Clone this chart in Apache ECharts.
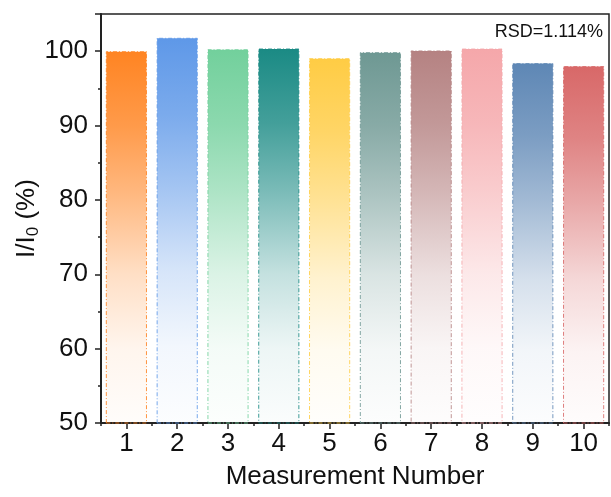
<!DOCTYPE html>
<html>
<head>
<meta charset="utf-8">
<script src="https://cdn.jsdelivr.net/npm/echarts@6/dist/echarts.min.js"></script>
<style>html,body{margin:0;padding:0;background:#fff}#c{width:611px;height:497px}</style>
</head>
<body>
<div id="c"></div>
<script>
const categories = ['1','2','3','4','5','6','7','8','9','10'];
const values = [100.0, 101.8, 100.27, 100.36, 99.06, 99.87, 100.1, 100.36, 98.4, 98.0];
const barColors = ['#FF8422','#5E98E8','#72D09C','#1A8A84','#FFCC44','#6E9893','#B58282','#F5A7AA','#5E87B5','#D86868'];
const yTicks = [50, 60, 70, 80, 90, 100];
const rsdText = 'RSD=1.114%';

function hexA(h, a){
  const r=parseInt(h.slice(1,3),16), g=parseInt(h.slice(3,5),16), b=parseInt(h.slice(5,7),16);
  return `rgba(${r},${g},${b},${a})`;
}
const font = 'Liberation Sans, Arial, sans-serif';
const axisColor = '#222';
const fade = [[0,1],[0.2,0.82],[0.38,0.58],[0.6,0.26],[0.8,0.08],[1,0.02]];

const chart = echarts.init(document.getElementById('c'), null, {renderer:'canvas'});
chart.setOption({
  animation:false,
  backgroundColor:'#fff',
  grid:{left:101, right:2, top:14, bottom:74, show:true, borderColor:axisColor, borderWidth:1.5, backgroundColor:'transparent'},
  xAxis:[{
    type:'category', data:categories, position:'bottom',
    name:'Measurement Number', nameLocation:'middle', nameGap:41, nameMoveOverlap:false,
    nameTextStyle:{fontFamily:font, fontSize:26, color:'#111'},
    axisLine:{lineStyle:{color:axisColor, width:2}},
    axisTick:{show:true, alignWithLabel:true, length:6, lineStyle:{color:axisColor, width:1.5}},
    axisLabel:{fontFamily:font, fontSize:26, color:'#111', margin:8},
    splitLine:{show:false}
  },{
    type:'category', data:categories, position:'bottom', gridIndex:0,
    axisLine:{show:false},
    axisTick:{show:true, length:3, lineStyle:{color:axisColor, width:1.5}},
    axisLabel:{show:false}, splitLine:{show:false}
  }],
  yAxis:{
    type:'value', min:yTicks[0], max:105, interval:10,
    name:'{a|I/I}{s|0}{a| (%)}', nameLocation:'middle', nameGap:59, nameRotate:90, nameMoveOverlap:false,
    nameTextStyle:{fontFamily:font, fontSize:26, color:'#111',
      rich:{a:{fontFamily:font, fontSize:26, color:'#111'}, s:{fontFamily:font, fontSize:17, color:'#111', padding:[13,0,0,0]}}},
    axisLine:{show:true, lineStyle:{color:axisColor, width:2}},
    axisTick:{show:true, length:6, lineStyle:{color:axisColor, width:1.5}},
    minorTick:{show:true, splitNumber:2, length:3, lineStyle:{color:axisColor, width:1.5}},
    axisLabel:{fontFamily:font, fontSize:26, color:'#111', margin:13,
      formatter:v=> yTicks.includes(v) ? String(v) : ''},
    splitLine:{show:false}
  },
  series:[{
    type:'bar', barWidth:'81%', xAxisIndex:0,
    data: values.map((v,i)=>({value:v, itemStyle:{
      color:new echarts.graphic.LinearGradient(0,0,0,1, fade.map(([o,a])=>({offset:o,color:hexA(barColors[i],a)}))),
      borderColor:hexA(barColors[i],0.85), borderWidth:1, borderType:[4,2,1,2]
    }}))
  }],
  graphic:[{
    type:'text', right:8, top:23,
    style:{text:rsdText, fontFamily:font, fontSize:18, fill:'#111'}
  }]
});
</script>
</body>
</html>
